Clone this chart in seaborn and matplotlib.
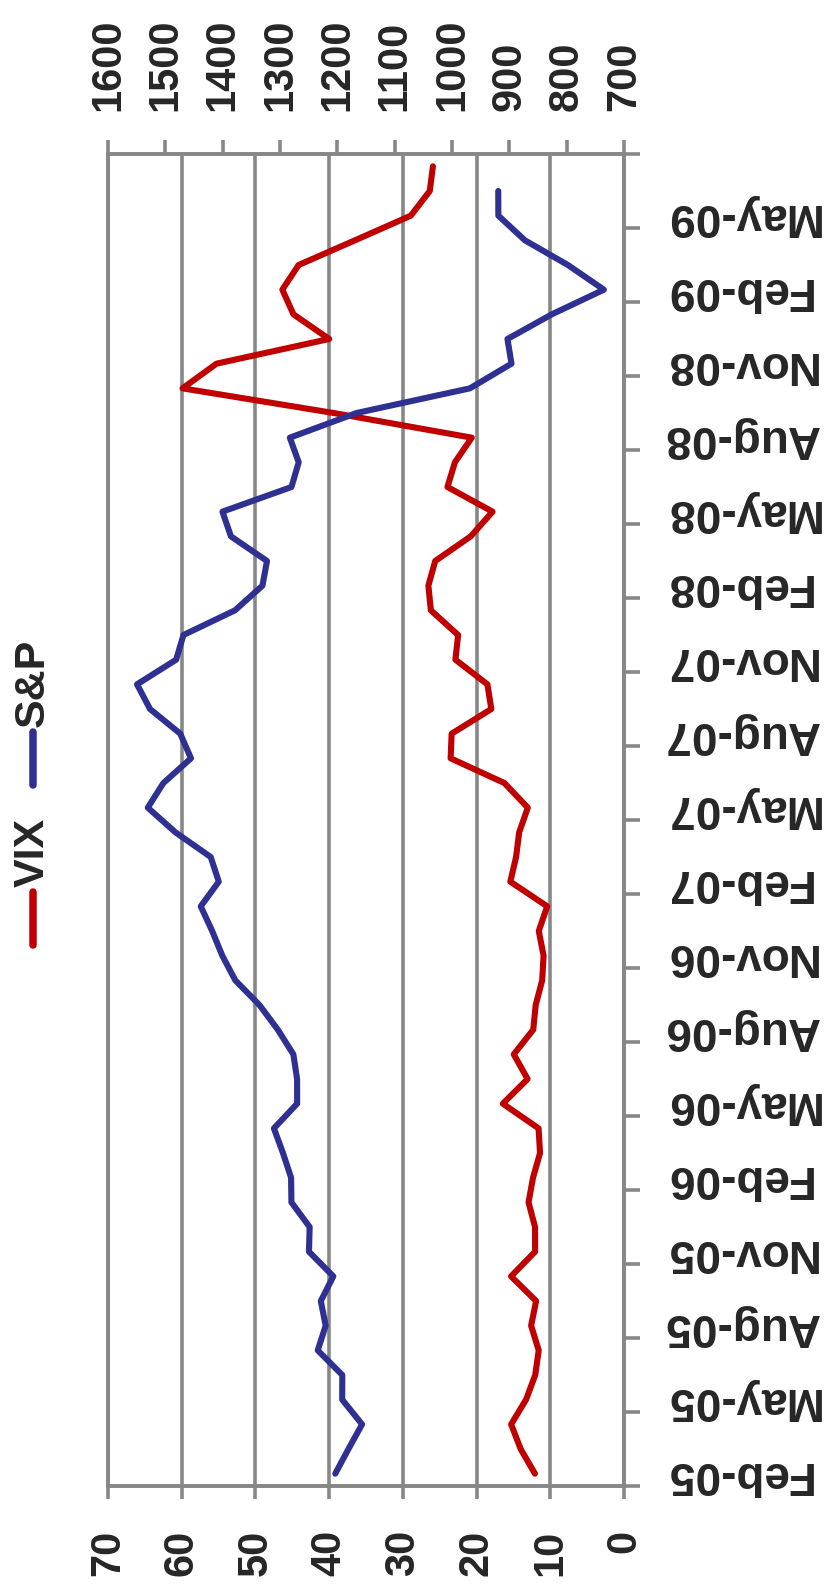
import numpy as np
import pandas as pd
import matplotlib
matplotlib.use("Agg")
import matplotlib.pyplot as plt
from matplotlib.lines import Line2D
import seaborn as sns

# ---------------- data ----------------
months = pd.date_range("2005-02-01", periods=54, freq="MS")
date_labels = ["Feb-05", "May-05", "Aug-05", "Nov-05", "Feb-06", "May-06",
               "Aug-06", "Nov-06", "Feb-07", "May-07", "Aug-07", "Nov-07",
               "Feb-08", "May-08", "Aug-08", "Nov-08", "Feb-09", "May-09"]
vix = [12.08, 14.02, 15.31, 13.29, 12.04, 11.57, 12.60, 11.92, 15.32, 12.06, 12.07,
       12.95, 12.34, 11.39, 11.59, 16.44, 13.08, 14.95, 12.31, 11.98, 11.10, 10.91, 11.56,
       10.42, 15.42, 14.64, 14.22, 13.05, 16.23, 23.52, 23.38, 18.00, 18.53, 22.87, 22.50,
       26.20, 26.54, 25.61, 20.79, 17.83, 23.95, 22.94, 20.65, 39.39, 59.89, 55.28, 40.00,
       44.84, 46.35, 44.14, 36.50, 28.92, 26.35, 25.92]
sp500 = [1203.60, 1180.59, 1156.85, 1191.50, 1191.33, 1234.18, 1220.33, 1228.81, 1207.01, 1249.48, 1248.29,
         1280.08, 1280.66, 1294.83, 1310.61, 1270.09, 1270.20, 1276.66, 1303.82, 1335.85, 1377.94, 1400.63, 1418.30,
         1438.24, 1406.82, 1420.86, 1482.37, 1530.62, 1503.35, 1455.27, 1473.99, 1526.75, 1549.38, 1481.14, 1468.36,
         1378.55, 1330.63, 1322.70, 1385.59, 1400.38, 1280.00, 1267.38, 1282.83, 1166.36, 968.75, 896.24, 903.25,
         825.88, 735.09, 797.87, 872.81, 919.14, 919.32]
vix_ticks = [0, 10, 20, 30, 40, 50, 60, 70]
sp_ticks = [700, 800, 900, 1000, 1100, 1200, 1300, 1400, 1500, 1600]
series_names = ["VIX", "S&P"]

# ---------------- style ----------------
sns.set_style("white")
plt.rcParams["font.family"] = ["Liberation Sans", "DejaVu Sans"]
plt.rcParams["font.weight"] = "bold"
RED = "#C00000"
BLUE = "#2E3192"
GRAY = "#878787"
FS_NUM = 30
FS_DATE = 33
FS_LEG = 31
LW = 4.4
GLW = 2.6

W, H = 833, 1585
fig = plt.figure(figsize=(W / 100, H / 100), dpi=100)
x0, x1 = 108 / W, 624 / W
y0, y1 = (H - 1486) / H, (H - 154) / H
ax = fig.add_axes([x0, y0, x1 - x0, y1 - y0])

idx = np.arange(len(months))
vdf = pd.DataFrame({"idx": idx[:len(vix)], "vix": vix})
sdf = pd.DataFrame({"idx": idx[:len(sp500)], "sp": sp500})

sns.lineplot(data=vdf, x="vix", y="idx", orient="y", sort=False, estimator=None,
             color=RED, linewidth=LW, ax=ax, legend=False)
ax.set_xlim(max(vix_ticks), min(vix_ticks))
ax.set_ylim(-0.5, len(months) - 0.5)
ax.set_xticks(vix_ticks)
ax.set_xticklabels([str(v) for v in vix_ticks], rotation=90, fontsize=FS_NUM,
                   fontweight="bold")
ax.tick_params(axis="x", direction="out", length=9.4, width=GLW, color=GRAY,
               pad=22, bottom=True, labelbottom=True)
ax.grid(axis="x", color=GRAY, linewidth=GLW)
ax.grid(axis="y", visible=False)
ax.set_xlabel("")
ax.set_ylabel("")

# date axis on the right
ax.yaxis.tick_right()
ax.set_yticks(np.arange(-0.5, len(months), 3))
ax.set_yticklabels([])
ax.set_yticks(np.arange(0, len(months) - 2, 3), minor=True)
ax.set_yticklabels(date_labels, minor=True, rotation=180, fontsize=FS_DATE,
                   va="center", fontweight="bold")
ax.tick_params(axis="y", which="major", direction="out", length=11.5, width=GLW,
               color=GRAY, right=True, left=False)
ax.tick_params(axis="y", which="minor", length=0, pad=28, right=True, left=False,
               labelright=True, labelleft=False)

for s in ["left", "right", "bottom", "top"]:
    ax.spines[s].set_visible(True)
    ax.spines[s].set_color(GRAY)
    ax.spines[s].set_linewidth(GLW)

# S&P on top axis
ax2 = ax.twiny()
sns.lineplot(data=sdf, x="sp", y="idx", orient="y", sort=False, estimator=None,
             color=BLUE, linewidth=LW, ax=ax2, legend=False)
ax2.set_xlim(max(sp_ticks), min(sp_ticks))
ax2.set_ylim(-0.5, len(months) - 0.5)
ax2.set_xticks(sp_ticks)
ax2.set_xticklabels([str(v) for v in sp_ticks], rotation=90, fontsize=FS_NUM,
                    fontweight="bold")
ax2.tick_params(axis="x", direction="out", length=10, width=GLW, color=GRAY, pad=21,
                top=True, labeltop=True, bottom=False, labelbottom=False)
ax2.grid(False)
ax2.set_xlabel("")
ax2.set_ylabel("")
for s in ["left", "right", "bottom", "top"]:
    ax2.spines[s].set_color(GRAY)
    ax2.spines[s].set_linewidth(GLW)

# rotated legend on the left
lx = 33 / W
fig.add_artist(Line2D([lx, lx], [(H - 945) / H, (H - 892) / H], color=RED,
                      linewidth=LW + 1, solid_capstyle="round"))
fig.text(lx, (H - 887) / H, series_names[0], rotation=90, fontsize=FS_LEG,
         fontweight="bold", ha="center", va="bottom")
fig.add_artist(Line2D([lx, lx], [(H - 785) / H, (H - 732) / H], color=BLUE,
                      linewidth=LW + 1, solid_capstyle="round"))
fig.text(lx, (H - 727) / H, series_names[1], rotation=90, fontsize=FS_LEG,
         fontweight="bold", ha="center", va="bottom")

fig.savefig("out.png", dpi=100)
